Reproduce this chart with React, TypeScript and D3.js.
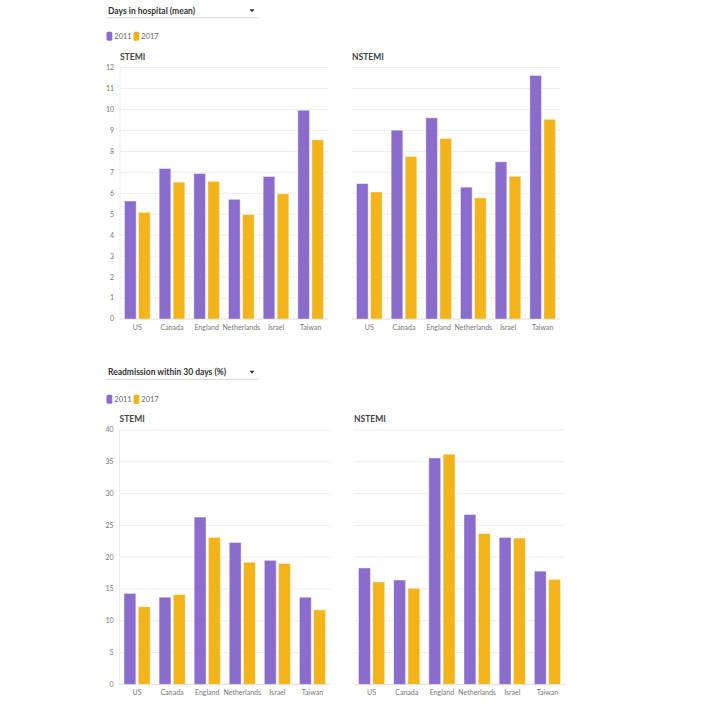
import React from "react";
import * as d3 from "d3";

const countries = ["US", "Canada", "England", "Netherlands", "Israel", "Taiwan"];
const years = ["2011", "2017"];
const yearColors = ["#8a6ccd", "#f2b31b"];

const daysStemi2011 = [5.63, 7.18, 6.94, 5.71, 6.8, 9.96];
const daysStemi2017 = [5.09, 6.53, 6.57, 4.98, 5.97, 8.55];
const daysNstemi2011 = [6.46, 9.01, 9.6, 6.29, 7.5, 11.62];
const daysNstemi2017 = [6.06, 7.75, 8.61, 5.78, 6.81, 9.53];
const readmStemi2011 = [14.3, 13.7, 26.3, 22.3, 19.5, 13.7];
const readmStemi2017 = [12.2, 14.1, 23.1, 19.2, 19.0, 11.7];
const readmNstemi2011 = [18.3, 16.4, 35.6, 26.7, 23.1, 17.8];
const readmNstemi2017 = [16.1, 15.1, 36.2, 23.7, 23.0, 16.5];

const daysTicks = d3.range(0, 13, 1);
const readmTicks = d3.range(0, 45, 5);

const FONT = "Lato, 'Open Sans', sans-serif";

function Panel({ title, s2011, s2017, ticks, maxV, x0, x1, yTop, yBot, showY }: any) {
  const x = d3.scaleBand().domain(countries).range([x0, x1]).padding(0);
  const inner = d3
    .scaleBand()
    .domain(years)
    .range([4.5, x.bandwidth() - 4.5])
    .paddingInner(0.17);
  const y = d3.scaleLinear().domain([0, maxV]).range([yBot, yTop]);
  const series = [s2011, s2017];
  return (
    <g>
      <text x={x0} y={yTop - 8} fontSize={8.5} fontWeight={700} fill="#444" fontFamily={FONT}>
        {title}
      </text>
      {ticks.map((t: number) => (
        <g key={t}>
          <line x1={x0} x2={x1} y1={y(t)} y2={y(t)} stroke={t === 0 ? "#dcdcdc" : "#ececec"} strokeWidth={1} />
          {showY && (
            <text x={x0 - 6} y={y(t)} dy="0.35em" textAnchor="end" fontSize={7} fill="#777" fontFamily={FONT}>
              {t}
            </text>
          )}
        </g>
      ))}
      {showY && <line x1={x0} x2={x0} y1={yTop} y2={yBot} stroke="#eeeeee" />}
      {countries.map((c, i) => (
        <g key={c} transform={`translate(${x(c)},0)`}>
          {years.map((yr, j) => (
            <rect
              key={yr}
              x={inner(yr)}
              width={inner.bandwidth()}
              y={y(series[j][i])}
              height={yBot - y(series[j][i])}
              fill={yearColors[j]}
              stroke="#ffffff"
              strokeOpacity={0.5}
              strokeWidth={0.8}
            />
          ))}
          <text
            x={x.bandwidth() / 2}
            y={yBot + 11}
            textAnchor="middle"
            fontSize={7}
            fill="#777"
            fontFamily={FONT}
          >
            {c}
          </text>
        </g>
      ))}
    </g>
  );
}

function Header({ label, yc, legendY }: any) {
  return (
    <g>
      <text x={108} y={yc} dy="0.35em" fontSize={8.5} fontWeight={700} fill="#333" fontFamily={FONT}>
        {label}
      </text>
      <path d={`M${249.5},${yc - 1.5} L${254.5},${yc - 1.5} L${252},${yc + 1.5} Z`} fill="#333" />
      <line x1={106} x2={258} y1={yc + 7} y2={yc + 7} stroke="#d8d8d8" />
      {years.map((yr, j) => (
        <g key={yr} transform={`translate(${106.5 + j * 27},${legendY - 4.5})`}>
          <rect width={5.8} height={9} rx={1.5} fill={yearColors[j]} />
          <text x={7.8} y={4.5} dy="0.35em" fontSize={7.5} fill="#666" fontFamily={FONT}>
            {yr}
          </text>
        </g>
      ))}
    </g>
  );
}

export default function App() {
  return (
    <svg
      width={720}
      height={720}
      style={{ position: "absolute", left: 0, top: 0, background: "#fff" }}
    >
      <Header label="Days in hospital (mean)" yc={10.7} legendY={36.2} />
      <Panel title="STEMI" s2011={daysStemi2011} s2017={daysStemi2017} ticks={daysTicks} maxV={12}
        x0={120} x1={328} yTop={67.5} yBot={319} showY={true} />
      <Panel title="NSTEMI" s2011={daysNstemi2011} s2017={daysNstemi2017} ticks={daysTicks} maxV={12}
        x0={352} x1={560} yTop={67.5} yBot={319} showY={false} />
      <Header label="Readmission within 30 days (%)" yc={372.3} legendY={399.3} />
      <Panel title="STEMI" s2011={readmStemi2011} s2017={readmStemi2017} ticks={readmTicks} maxV={40}
        x0={119.5} x1={330} yTop={430} yBot={684.3} showY={true} />
      <Panel title="NSTEMI" s2011={readmNstemi2011} s2017={readmNstemi2017} ticks={readmTicks} maxV={40}
        x0={354} x1={565} yTop={430} yBot={684.3} showY={false} />
    </svg>
  );
}
